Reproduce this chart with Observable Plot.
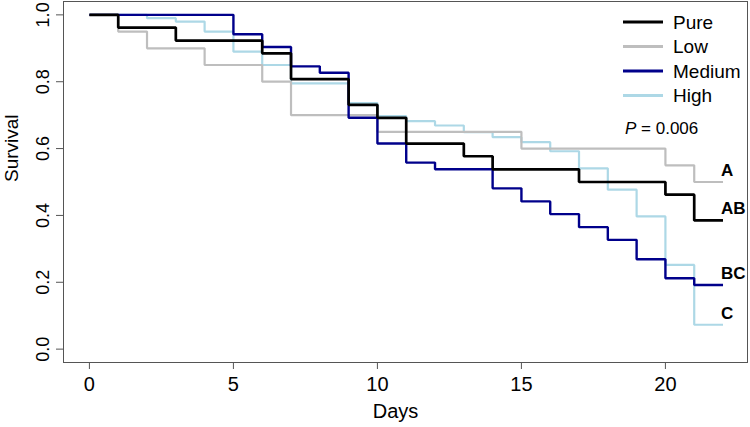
<!DOCTYPE html>
<html>
<head>
<meta charset="utf-8">
<script src="https://cdn.jsdelivr.net/npm/d3@7"></script>
<script src="https://cdn.jsdelivr.net/npm/@observablehq/plot@0.6"></script>
<style>
  html, body { margin: 0; padding: 0; background: #fff; }
  svg { display: block; }
</style>
</head>
<body>
<script>
// ---------- data ----------
const groups = ["Pure", "Low", "Medium", "High"];
const groupColors = ["#000000", "#bebebe", "#00008b", "#add8e6"];

const pureDays = [0, 1, 3, 6, 7, 9, 10, 11, 13, 14, 17, 20, 21, 22];
const pureSurv = [1, 0.962, 0.923, 0.885, 0.808, 0.731, 0.692, 0.615, 0.577, 0.538, 0.500, 0.462, 0.385, 0.385];

const lowDays = [0, 1, 2, 4, 6, 7, 10, 15, 20, 21, 22];
const lowSurv = [1, 0.95, 0.90, 0.85, 0.80, 0.70, 0.65, 0.60, 0.55, 0.50, 0.50];

const mediumDays = [0, 5, 6, 7, 8, 9, 10, 11, 12, 14, 15, 16, 17, 18, 19, 20, 21, 22];
const mediumSurv = [1, 0.942, 0.904, 0.846, 0.827, 0.692, 0.615, 0.558, 0.538, 0.481, 0.442, 0.404, 0.365, 0.327, 0.269, 0.212, 0.192, 0.192];

const highDays = [0, 2, 3, 4, 5, 6, 7, 9, 10, 11, 12, 13, 14, 15, 16, 17, 18, 19, 20, 21, 22];
const highSurv = [1, 0.99, 0.98, 0.95, 0.89, 0.85, 0.795, 0.736, 0.697, 0.682, 0.669, 0.649, 0.634, 0.619, 0.592, 0.541, 0.477, 0.397, 0.252, 0.073, 0.073];

const xTicks = [0, 5, 10, 15, 20];
const yTicks = [0, 0.2, 0.4, 0.6, 0.8, 1.0];

const groupLetters = ["A", "AB", "BC", "C"];
const letterY = [0.534, 0.421, 0.227, 0.107];
const letterDay = 22;

const pText = "0.006";
const xTitle = "Days";
const yTitle = "Survival";

// ---------- build table ----------
function rowsOf(name, days, surv) {
  return days.map((d, i) => ({group: name, day: d, surv: surv[i]}));
}
const series = {
  Pure: rowsOf("Pure", pureDays, pureSurv),
  Low: rowsOf("Low", lowDays, lowSurv),
  Medium: rowsOf("Medium", mediumDays, mediumSurv),
  High: rowsOf("High", highDays, highSurv)
};
const widths = {Pure: 2.7, Low: 2.2, Medium: 2.4, High: 2.2};
const drawOrder = ["High", "Low", "Medium", "Pure"];

const FONT = "'Liberation Sans', Arial, Helvetica, sans-serif";

const chart = Plot.plot({
  width: 750,
  height: 427,
  marginLeft: 63,
  marginRight: 3,
  marginTop: 1,
  marginBottom: 65,
  style: {fontFamily: FONT, fontSize: "20px", color: "#000", background: "#fff"},
  x: {domain: [-0.9, 22.85]},
  y: {domain: [-0.04, 1.04]},
  color: {domain: groups, range: groupColors},
  marks: [
    Plot.frame({stroke: "#555"}),
    Plot.axisX({ticks: xTicks, tickSize: 7, tickPadding: 7, label: null, stroke: "#555", fill: "#000", fontSize: 20}),
    Plot.axisY({ticks: yTicks, tickSize: 7, tickFormat: () => "", label: null, stroke: "#555"}),
    Plot.text(yTicks, {
      y: d => d, frameAnchor: "left", dx: -20, rotate: -90,
      text: d => d3.format(".1f")(d), textAnchor: "middle", lineAnchor: "middle",
      fontSize: 18, fill: "#000"
    }),
    Plot.text([xTitle], {text: d => d, frameAnchor: "bottom", dy: 49, dx: -10, lineAnchor: "middle", fontSize: 20}),
    Plot.text([yTitle], {text: d => d, frameAnchor: "left", dx: -52, rotate: -90, lineAnchor: "middle", fontSize: 19}),
    ...drawOrder.map(g => Plot.line(series[g], {
      x: "day", y: "surv", stroke: "group", curve: "step-after",
      strokeWidth: widths[g], strokeLinecap: "butt", strokeLinejoin: "miter"
    })),
    Plot.text(groupLetters, {
      x: () => letterDay, y: (d, i) => letterY[i], text: d => d,
      textAnchor: "start", dx: -2, lineAnchor: "middle",
      fontWeight: "bold", fontSize: 17, fill: "#000"
    })
  ]
});
document.body.appendChild(chart);

// ---------- legend + p-value (pixel-positioned annotations) ----------
const svg = d3.select(chart);
const leg = svg.append("g").attr("font-family", FONT).attr("text-anchor", "start");
groups.forEach((g, i) => {
  const cy = 22 + i * 24.5;
  leg.append("line")
    .attr("x1", 623).attr("x2", 663).attr("y1", cy).attr("y2", cy)
    .attr("stroke", groupColors[i]).attr("stroke-width", 3.2);
  leg.append("text")
    .attr("x", 673).attr("y", cy).attr("dy", "0.35em").attr("text-anchor", "start")
    .attr("font-size", 19).attr("fill", "#000").text(g);
});
const pt = leg.append("text").attr("x", 625).attr("y", 128).attr("dy", "0.35em")
  .attr("text-anchor", "start").attr("font-size", 17).attr("fill", "#000");
pt.append("tspan").attr("font-style", "italic").text("P");
pt.append("tspan").text(" = " + pText);
</script>
</body>
</html>
